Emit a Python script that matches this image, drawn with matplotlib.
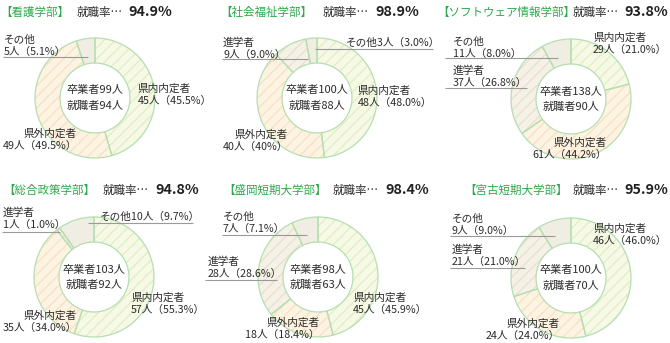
import matplotlib

matplotlib.use("Agg")
import matplotlib.pyplot as plt

plt.rcParams["font.family"] = ["Noto Sans CJK JP", "DejaVu Sans"]
plt.rcParams["hatch.linewidth"] = 0.9

W, H = 670, 343

# data
departments = ["看護学部", "社会福祉学部", "ソフトウェア情報学部",
               "総合政策学部", "盛岡短期大学部", "宮古短期大学部"]
rates = ["94.9%", "98.9%", "93.8%", "94.8%", "98.4%", "95.9%"]
graduates = [99, 100, 138, 103, 98, 100]
employed = [94, 88, 90, 92, 63, 70]
categories = ["県内内定者", "県外内定者", "進学者", "その他"]
kennai = [45, 48, 29, 57, 45, 46]
kennai_pct = ["45.5", "48.0", "21.0", "55.3", "45.9", "46.0"]
kengai = [49, 40, 61, 35, 18, 24]
kengai_pct = ["49.5", "40", "44.2", "34.0", "18.4", "24.0"]
shingaku = [0, 9, 37, 1, 28, 21]
shingaku_pct = [None, "9.0", "26.8", "1.0", "28.6", "21.0"]
sonota = [5, 3, 11, 10, 7, 9]
sonota_pct = ["5.1", "3.0", "8.0", "9.7", "7.1", "9.0"]

# styling
fills = ["#f6f9e6", "#fdf3e2", "#f5f1e6", "#f0ede2"]
hatch_cols = ["#e3ecc3", "#f8e0c0", "#e7e0cc", "#f0ede2"]
hatches = ["///", "///", "///", None]
RING = "#b5dfb0"
GREEN = "#2ea84c"
TEXT = "#2b2b2b"

# layout in pixels: center, title x positions (name, 就職率, rate), title y,
# label anchors: category -> (x, y, ha, underline (x0, x1, y) or None, one_line)
panels = [
    dict(center=(95, 98), title=(0, 77, 128, 12), labels={
        "県内内定者": (138, 89, "left", None, False),
        "県外内定者": (77, 134, "right", None, False),
        "その他": (4, 40, "left", (3, 88, 57), False)}),
    dict(center=(317, 98), title=(220, 323, 375, 12), labels={
        "県内内定者": (358, 91, "left", None, False),
        "県外内定者": (288, 135, "right", None, False),
        "進学者": (223, 43, "left", (222, 308, 59), False),
        "その他": (346, 43, "left", (315, 433, 49), True)}),
    dict(center=(571, 99), title=(440, 575, 627, 12), labels={
        "県内内定者": (593, 38, "left", None, False),
        "県外内定者": (607, 143, "right", None, False),
        "進学者": (453, 71, "left", (445, 527, 88), False),
        "その他": (453, 42, "left", (445, 558, 58), False)}),
    dict(center=(94, 277), title=(3, 103, 155, 190), labels={
        "県内内定者": (131, 298, "left", None, False),
        "県外内定者": (77, 316, "right", None, False),
        "進学者": (3, 213, "left", (2, 60, 232), False),
        "その他": (100, 217, "left", (88, 193, 223), True)}),
    dict(center=(318, 277), title=(223, 333, 385, 190), labels={
        "県内内定者": (353, 298, "left", None, False),
        "県外内定者": (320, 323, "right", None, False),
        "進学者": (208, 262, "left", (205, 277, 280), False),
        "その他": (223, 217, "left", (222, 307, 235), False)}),
    dict(center=(571, 278), title=(465, 573, 625, 190), labels={
        "県内内定者": (593, 229, "left", None, False),
        "県外内定者": (560, 324, "right", None, False),
        "進学者": (452, 250, "left", (450, 525, 268), False),
        "その他": (452, 219, "left", (450, 555, 236), False)}),
]

R_OUT, WIDTH = 60, 25
FS = 7.7

fig = plt.figure(figsize=(W / 100, H / 100), dpi=100)
ax = fig.add_axes([0, 0, 1, 1])
renderer = fig.canvas.get_renderer()


def reset_view():
    # ax.pie rescales the axes on every call; put the pixel grid back
    ax.set_xlim(0, W)
    ax.set_ylim(0, H)
    ax.set_aspect("auto")


def txt(x, y, s, **kw):
    kw.setdefault("color", TEXT)
    kw.setdefault("fontsize", FS)
    kw.setdefault("va", "center")
    return ax.text(x, H - y, s, **kw)


def right_edge(t):
    # right edge of a text in pixel (= data x) units
    return t.get_window_extent(renderer).x1


for i, p in enumerate(panels):
    cx, cy = p["center"]
    counts = [kennai[i], kengai[i], shingaku[i], sonota[i]]
    pcts = [kennai_pct[i], kengai_pct[i], shingaku_pct[i], sonota_pct[i]]
    keep = [k for k, v in enumerate(counts) if v > 0]
    vals = [counts[k] for k in keep]

    # filled + hatched wedges
    wedges, _ = ax.pie(vals, colors=[fills[k] for k in keep], startangle=90,
                       counterclock=False, radius=R_OUT, center=(cx, H - cy),
                       wedgeprops=dict(width=WIDTH, linewidth=0))
    for w, k in zip(wedges, keep):
        w.set_edgecolor(hatch_cols[k])
        w.set_linewidth(0)
        if hatches[k]:
            w.set_hatch(hatches[k])
    # green outlines on top
    ax.pie(vals, colors=["none"] * len(vals), startangle=90, counterclock=False,
           radius=R_OUT, center=(cx, H - cy),
           wedgeprops=dict(width=WIDTH, linewidth=0.9, edgecolor=RING))
    reset_view()

    # centre text
    txt(cx, cy - 7.5, f"卒業者{graduates[i]}人", ha="center", fontsize=8)
    txt(cx, cy + 7.5, f"就職者{employed[i]}人", ha="center", fontsize=8)

    # labels
    for k in keep:
        name = categories[k]
        x, y, ha, line, one_line = p["labels"][name]
        value = f"{counts[k]}人（{pcts[k]}%）"
        if one_line:
            txt(x, y, name + value, ha=ha)
        else:
            txt(x, y, name, ha=ha)
            txt(x, y + 11.5, value, ha=ha)
        if line:
            x0, x1, ly = line
            ax.plot([x0, x1], [H - ly, H - ly], color="#9a9a9a", lw=0.8,
                    solid_capstyle="butt")

    # title: pieces placed at measured spots, pushed right if they would touch
    tx0, tx1, tx2, ty = p["title"]
    t0 = txt(tx0, ty, f"【{departments[i]}】", color=GREEN, fontsize=8.3)
    t1 = txt(max(tx1, right_edge(t0) - 3), ty, "就職率…", fontsize=8.3)
    t2 = txt(max(tx2, right_edge(t1) + 2), ty, rates[i], color="#222222",
             fontsize=10.3, fontweight="bold")
    # keep the rate inside the figure
    over = right_edge(t2) - (W - 2)
    if over > 0:
        for t in (t0, t1, t2):
            t.set_x(t.get_position()[0] - over)

reset_view()
ax.set_axis_off()

fig.savefig("out.png", dpi=100)
